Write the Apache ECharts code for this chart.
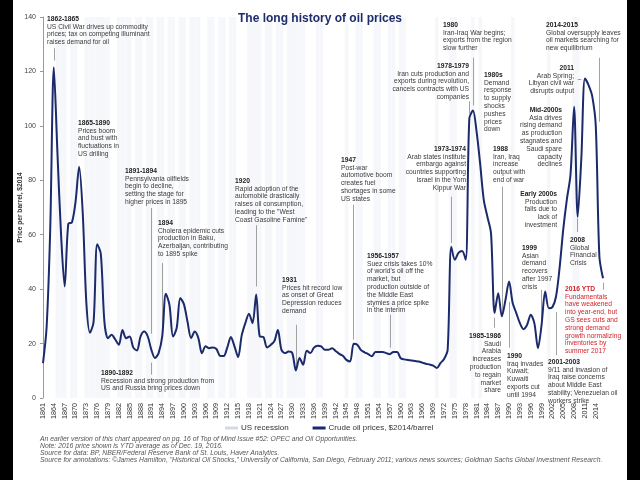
<!DOCTYPE html>
<html><head><meta charset="utf-8">
<script src="https://cdn.jsdelivr.net/npm/echarts@6/dist/echarts.min.js"></script>
<style>html,body{margin:0;padding:0;background:#fff}#c{width:640px;height:480px}</style>
</head><body><div id="c"></div>
<script>
// ---- data ----
const firstYear = 1861, lastYear = 2016;
const years = [];
for (let y = firstYear; y <= lastYear; y++) years.push(String(y));

// Crude oil prices, $2014/barrel, 1861..2016
const oilPrice = [
  12.8, 26, 62, 121.5, 90, 60, 41, 64, 64.5, 72,            // 1861-1870
  85, 68, 35, 24, 28, 56.5, 53, 28, 22, 23.2,               // 1871-1880
  21.5, 19.6, 25, 22, 22.6, 18.5, 17.5, 22.6, 24.4, 22.6,   // 1881-1890
  17.7, 14.7, 16.5, 22.6, 38.3, 34.2, 22.6, 25.7, 36.7, 34.5, // 1891-1900
  28, 22, 24.4, 22, 16.4, 19, 18.3, 18.6, 18, 15.5,         // 1901-1910
  15.4, 18.5, 22.4, 19, 15, 23, 27.5, 31, 27.5, 38,         // 1911-1920
  22.6, 22.4, 18.6, 19.5, 20.8, 25, 17.7, 16.5, 17.1, 16.5, // 1921-1930
  10.1, 14.7, 12.2, 17.4, 16.5, 18.5, 19.2, 19, 17.7, 17.7, // 1931-1940
  18.3, 17.3, 16.2, 15.5, 14, 13.4, 19.9, 19.6, 17.6, 16.8, // 1941-1950
  16.1, 15.3, 16.9, 16.9, 16.9, 16.5, 16.1, 16.9, 16.9, 14.6, // 1951-1960
  14.2, 14, 13.8, 13.6, 13.4, 13, 12.6, 12.3, 11.9, 11,     // 1961-1970
  12.8, 14.3, 17.7, 55.6, 50.8, 53.3, 54, 50.8, 102.7, 105.6, // 1971-1980
  98, 86, 72.8, 66.6, 60.6, 31.2, 38.5, 30, 36, 42.8,       // 1981-1990
  34.9, 31.2, 27.5, 25.3, 26.9, 30.6, 27.5, 18.3, 26.9, 39.1, // 1991-2000
  33, 33.4, 37.3, 48, 62, 73, 82, 107, 66.6, 88,            // 2001-2010
  117.4, 115, 111, 100, 52, 44                              // 2011-2016
];

// US recession years (NBER)
const recessionYears = [1865,1866,1867,1869,1870,1873,1874,1875,1876,1877,1878,1879,1882,1883,1884,1885,
  1887,1888,1890,1891,1893,1894,1896,1897,1899,1900,1902,1903,1904,1907,1908,1910,1911,1913,1914,
  1918,1919,1920,1921,1923,1924,1926,1927,1929,1930,1931,1932,1933,1937,1938,1945,1948,1949,1953,1954,
  1957,1958,1960,1961,1970,1974,1975,1980,1982,1991,2001,2008,2009];
const recessionHeight = 140;

const seriesNames = ['US recession', 'Crude oil prices, $2014/barrel'];
const titleText = 'The long history of oil prices';
const yAxisName = 'Price per barrel, $2014';

// annotation connectors: [year, fromValue, toValue]
const connectors = [
  ['1864', 124, 128.5], ['1891', 23.6, 69.8], ['1894', 25.5, 49.6], ['1891', 8.6, 13],
  ['1920', 41, 63.5], ['1931', 11.1, 26.9], ['1947', 21.4, 71], ['1957', 18.5, 30.6],
  ['1974', 57, 74], ['1979', 104.5, 109], ['1980', 107.5, 125], ['1988', 31.5, 77.7],
  ['2009', 61, 66], ['1999', 28, 39.8], ['1986', 25.8, 29.5], ['1990', 18.5, 35.3],
  ['2003', 15.8, 31.6], ['2015', 101.5, 125], ['2016', 39.8, 42.4]
];
const horizConnectors = [['2009', '2010', 117.3]];

const footnotes = [
  'An earlier version of this chart appeared on pg. 16 of Top of Mind Issue #52: OPEC and Oil Opportunities.',
  'Note: 2016 price shown is YTD average as of Dec. 19, 2016.',
  'Source for data: BP, NBER/Federal Reserve Bank of St. Louis, Haver Analytics.',
  'Source for annotations: \u00A9James Hamilton, "Historical Oil Shocks," University of California, San Diego, February 2011; various news sources; Goldman Sachs Global Investment Research.'
];

// ---- build ----
const FONT = '"Liberation Sans", Arial, sans-serif';
const recSet = new Set(recessionYears.map(String));
const recessionData = years.map(y => recSet.has(y) ? recessionHeight : null);

function ann(x, yc, lines, opts) {
  opts = opts || {};
  const lh = 7.8, fs = 6.7;
  const align = opts.align || 'left';
  const hc = opts.color || '#222';
  const bc = opts.color || '#3a3a3a';
  const top = yc - lh / 2;
  return [
    { type: 'text', x: x, y: top, silent: true, z: 50,
      style: { text: lines[0], fill: hc, font: 'bold ' + fs + 'px ' + FONT, align: align, verticalAlign: 'top', lineHeight: lh } },
    { type: 'text', x: x, y: top + lh, silent: true, z: 50,
      style: { text: lines.slice(1).join('\n'), fill: bc, font: fs + 'px ' + FONT, align: align, verticalAlign: 'top', lineHeight: lh } }
  ];
}

const annotations = [].concat(
  ann(47, 19, ['1862-1865', 'US Civil War drives up commodity', 'prices; tax on competing illuminant', 'raises demand for oil']),
  ann(78, 123, ['1865-1890', 'Prices boom', 'and bust with', 'fluctuations in', 'US drilling']),
  ann(125, 171, ['1891-1894', 'Pennsylvania oilfields', 'begin to decline,', 'setting the stage for', 'higher prices in 1895']),
  ann(158, 223, ['1894', 'Cholera epidemic cuts', 'production in Baku,', 'Azerbaijan, contributing', 'to 1895 spike']),
  ann(101, 373, ['1890-1892', 'Recession and strong production from', 'US and Russia bring prices down']),
  ann(235, 181, ['1920', 'Rapid adoption of the', 'automobile drastically', 'raises oil consumption,', 'leading to the "West', 'Coast Gasoline Famine"']),
  ann(282, 280, ['1931', 'Prices hit record low', 'as onset of Great', 'Depression reduces', 'demand']),
  ann(341, 160, ['1947', 'Post-war', 'automotive boom', 'creates fuel', 'shortages in some', 'US states']),
  ann(367, 256, ['1956-1957', 'Suez crisis takes 10%', "of world's oil off the", 'market, but', 'production outside of', 'the Middle East', 'stymies a price spike', 'in the interim']),
  ann(466, 149, ['1973-1974', 'Arab states institute', 'embargo against', 'countries supporting', 'Israel in the Yom', 'Kippur War'], { align: 'right' }),
  ann(469, 66, ['1978-1979', 'Iran cuts production and', 'exports during revolution,', 'cancels contracts with US', 'companies'], { align: 'right' }),
  ann(443, 25, ['1980', 'Iran-Iraq War begins;', 'exports from the region', 'slow further']),
  ann(484, 75, ['1980s', 'Demand', 'response', 'to supply', 'shocks', 'pushes', 'prices', 'down']),
  ann(493, 149, ['1988', 'Iran, Iraq', 'increase', 'output with', 'end of war']),
  ann(557, 194, ['Early 2000s', 'Production', 'falls due to', 'lack of', 'investment'], { align: 'right' }),
  ann(562, 110, ['Mid-2000s', 'Asia drives', 'rising demand', 'as production', 'stagnates and', 'Saudi spare', 'capacity', 'declines'], { align: 'right' }),
  ann(574, 68, ['2011', 'Arab Spring;', 'Libyan civil war', 'disrupts output'], { align: 'right' }),
  ann(546, 25, ['2014-2015', 'Global oversupply leaves', 'oil markets searching for', 'new equilibrium']),
  ann(570, 240, ['2008', 'Global', 'Financial', 'Crisis']),
  ann(522, 248, ['1999', 'Asian', 'demand', 'recovers', 'after 1997', 'crisis']),
  ann(565, 289, ['2016 YTD', 'Fundamentals', 'have weakened', 'into year-end, but', 'GS sees cuts and', 'strong demand', 'growth normalizing', 'inventories by', 'summer 2017'], { color: '#d3252b' }),
  ann(501, 336, ['1985-1986', 'Saudi', 'Arabia', 'increases', 'production', 'to regain', 'market', 'share'], { align: 'right' }),
  ann(507, 356, ['1990', 'Iraq invades', 'Kuwait;', 'Kuwaiti', 'exports cut', 'until 1994']),
  ann(548, 362, ['2001-2003', '9/11 and invasion of', 'Iraq raise concerns', 'about Middle East', 'stability; Venezuelan oil', 'workers strike'])
);

const footGraphics = footnotes.map((t, i) => ({
  type: 'text', x: 40, y: 439 + i * 7.2, silent: true,
  style: { text: t, fill: '#555', font: 'italic 6.8px ' + FONT, verticalAlign: 'middle' }
}));

const markLines = connectors.map(c => [
  { coord: [c[0], c[1]] }, { coord: [c[0], c[2]] }
]).concat(horizConnectors.map(c => [
  { coord: [c[0], c[2]] }, { coord: [c[1], c[2]] }
]));

const chart = echarts.init(document.getElementById('c'), null, { renderer: 'canvas' });
chart.setOption({
  animation: false,
  backgroundColor: '#fff',
  textStyle: { fontFamily: FONT },
  title: {
    text: titleText, left: 'center', top: 8,
    textStyle: { fontSize: 12, fontWeight: 'bold', color: '#1f2c6b', fontFamily: FONT }
  },
  grid: { left: 43, right: 37, top: 17, bottom: 82 },
  legend: {
    left: 220, top: 419, itemWidth: 13, itemHeight: 3, itemGap: 24,
    textStyle: { fontSize: 8, color: '#333', fontFamily: FONT, padding: [0, 0, 0, -2] },
    data: [
      { name: seriesNames[0], icon: 'rect', itemStyle: { color: '#d3d8e4' } },
      { name: seriesNames[1], icon: 'rect', itemStyle: { color: '#1b2a6b' } }
    ]
  },
  xAxis: {
    type: 'category', data: years, boundaryGap: false,
    axisLine: { show: false }, axisTick: { show: false },
    axisLabel: { interval: 2, rotate: 90, fontSize: 7.2, color: '#333', margin: 5, fontFamily: FONT }
  },
  yAxis: {
    type: 'value', min: 0, max: 140, interval: 20,
    name: yAxisName, nameLocation: 'middle', nameGap: 19, nameRotate: 90, nameMoveOverlap: false,
    nameTextStyle: { fontSize: 6.6, fontWeight: 'bold', color: '#333', fontFamily: FONT },
    axisLine: { show: true, lineStyle: { color: '#999', width: 1 } },
    axisTick: { show: true, length: 3, lineStyle: { color: '#999' } },
    axisLabel: { fontSize: 7, color: '#444', margin: 7, fontFamily: FONT },
    splitLine: { show: false }
  },
  series: [
    {
      name: seriesNames[0], type: 'bar', data: recessionData, barWidth: '100%', barGap: '0%',
      itemStyle: { color: '#f6f7fa' }, silent: true, z: 1
    },
    {
      name: seriesNames[1], type: 'line', data: oilPrice, smooth: 0.3, symbol: 'none',
      lineStyle: { color: '#1b2a6b', width: 2 }, itemStyle: { color: '#1b2a6b' }, z: 5,
      markLine: {
        silent: true, symbol: ['none', 'none'], label: { show: false },
        lineStyle: { color: '#8a8a8a', width: 0.8, type: 'solid' },
        emphasis: { disabled: true },
        data: markLines
      }
    }
  ],
  graphic: [
    { type: 'rect', shape: { x: 0, y: 0, width: 13, height: 480 }, style: { fill: '#000' }, silent: true },
    { type: 'rect', shape: { x: 627, y: 0, width: 13, height: 480 }, style: { fill: '#000' }, silent: true }
  ].concat(annotations, footGraphics)
});
</script>
</body></html>
